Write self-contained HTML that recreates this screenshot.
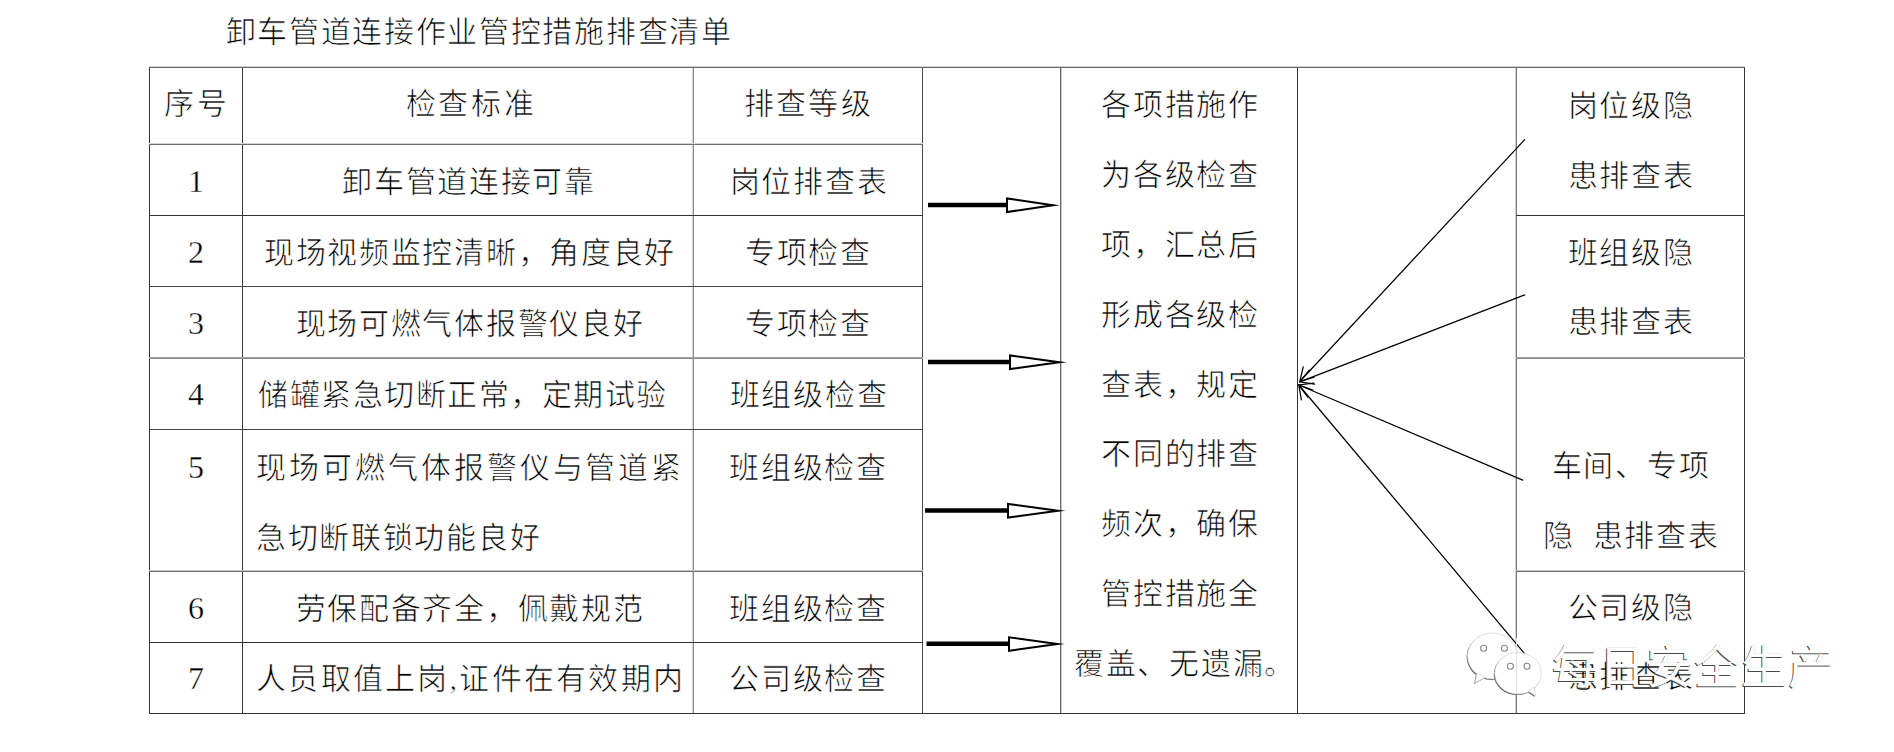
<!DOCTYPE html>
<html lang="zh-CN"><head><meta charset="utf-8"><style>
html,body{margin:0;padding:0;background:#fff;}
body{width:1894px;height:752px;position:relative;overflow:hidden;}
.l{position:absolute;}
.t,.d,.wm{position:absolute;white-space:nowrap;line-height:1;}
.t{font-family:"Liberation Serif",serif;font-size:30px;letter-spacing:1.7px;color:#000;-webkit-text-stroke:0.7px #fff;}
.d{font-family:"Liberation Serif",serif;font-size:32px;color:#000;-webkit-text-stroke:0.35px #fff;}
.c{text-align:center;}
.ov{position:absolute;left:0;top:0;}
.wm{font-family:"Liberation Sans",sans-serif;font-size:46px;color:#fff;text-shadow:-1px 1px 0 #484848,0 0 0.6px #bbb;letter-spacing:1.2px;}
</style></head><body>
<div class="l" style="left:149px;top:67px;width:1px;height:647px;background:#333;"></div>
<div class="l" style="left:242px;top:67px;width:1px;height:647px;background:#3a3a3a;"></div>
<div class="l" style="left:693px;top:67px;width:1px;height:647px;background:#8a8a8a;"></div>
<div class="l" style="left:922px;top:67px;width:1px;height:647px;background:#4a4a4a;"></div>
<div class="l" style="left:1060px;top:67px;width:1px;height:647px;background:#6a6a6a;"></div>
<div class="l" style="left:1297px;top:67px;width:1px;height:647px;background:#333;"></div>
<div class="l" style="left:1516px;top:67px;width:1px;height:647px;background:#7a7a7a;"></div>
<div class="l" style="left:1744px;top:67px;width:1px;height:647px;background:#333;"></div>
<div class="l" style="left:692px;top:67px;width:1px;height:647px;background:#d4d4d4;"></div>
<div class="l" style="left:1061px;top:67px;width:1px;height:647px;background:#c8c8c8;"></div>
<div class="l" style="left:1515px;top:67px;width:1px;height:647px;background:#d0d0d0;"></div>
<div class="l" style="left:149px;top:66px;width:1596px;height:1px;background:#cfcfcf;"></div>
<div class="l" style="left:149px;top:143px;width:774px;height:1px;background:#d4d4d4;"></div>
<div class="l" style="left:149px;top:357px;width:774px;height:1px;background:#a0a0a0;"></div>
<div class="l" style="left:1516px;top:357px;width:229px;height:1px;background:#a0a0a0;"></div>
<div class="l" style="left:149px;top:570px;width:774px;height:1px;background:#c4c4c4;"></div>
<div class="l" style="left:1516px;top:570px;width:229px;height:1px;background:#c4c4c4;"></div>
<div class="l" style="left:149px;top:67px;width:1596px;height:1px;background:#6a6a6a;"></div>
<div class="l" style="left:149px;top:144px;width:774px;height:1px;background:#707070;"></div>
<div class="l" style="left:149px;top:215px;width:774px;height:1px;background:#333;"></div>
<div class="l" style="left:1516px;top:215px;width:229px;height:1px;background:#333;"></div>
<div class="l" style="left:149px;top:286px;width:774px;height:1px;background:#444;"></div>
<div class="l" style="left:149px;top:358px;width:774px;height:1px;background:#8a8a8a;"></div>
<div class="l" style="left:1516px;top:358px;width:229px;height:1px;background:#8a8a8a;"></div>
<div class="l" style="left:149px;top:429px;width:774px;height:1px;background:#444;"></div>
<div class="l" style="left:149px;top:571px;width:774px;height:1px;background:#707070;"></div>
<div class="l" style="left:1516px;top:571px;width:229px;height:1px;background:#707070;"></div>
<div class="l" style="left:149px;top:642px;width:774px;height:1px;background:#333;"></div>
<div class="l" style="left:149px;top:713px;width:1596px;height:1px;background:#333;"></div>
<div class="t" style="left:225.5px;top:17px;">卸车管道连接作业管控措施排查清单</div>
<div class="t c" style="left:-103px;top:89px;width:600px;letter-spacing:3px;">序号</div>
<div class="t c" style="left:171px;top:89px;width:600px;letter-spacing:2.7px;">检查标准</div>
<div class="t c" style="left:508.5px;top:89px;width:600px;letter-spacing:2.2px;">排查等级</div>
<div class="d c" style="left:-104px;top:165px;width:600px;">1</div>
<div class="t c" style="left:169px;top:167px;width:600px;">卸车管道连接可靠</div>
<div class="t c" style="left:509px;top:167px;width:600px;">岗位排查表</div>
<div class="d c" style="left:-104px;top:236px;width:600px;">2</div>
<div class="t c" style="left:170px;top:238px;width:600px;">现场视频监控清晰，角度良好</div>
<div class="t c" style="left:508.5px;top:238px;width:600px;">专项检查</div>
<div class="d c" style="left:-104px;top:307px;width:600px;">3</div>
<div class="t c" style="left:170px;top:309px;width:600px;">现场可燃气体报警仪良好</div>
<div class="t c" style="left:508.5px;top:309px;width:600px;">专项检查</div>
<div class="d c" style="left:-104px;top:378px;width:600px;">4</div>
<div class="t" style="left:258px;top:380px;letter-spacing:1.5px;">储罐紧急切断正常，定期试验</div>
<div class="t c" style="left:509px;top:380px;width:600px;">班组级检查</div>
<div class="d c" style="left:-104px;top:451px;width:600px;">5</div>
<div class="t" style="left:256px;top:453px;letter-spacing:2.95px;">现场可燃气体报警仪与管道紧</div>
<div class="t c" style="left:508.5px;top:453px;width:600px;">班组级检查</div>
<div class="d c" style="left:-104px;top:592px;width:600px;">6</div>
<div class="t c" style="left:170px;top:594px;width:600px;">劳保配备齐全，佩戴规范</div>
<div class="t c" style="left:508.5px;top:594px;width:600px;">班组级检查</div>
<div class="d c" style="left:-104px;top:662px;width:600px;">7</div>
<div class="t" style="left:256px;top:664px;letter-spacing:2.25px;">人员取值上岗,证件在有效期内</div>
<div class="t c" style="left:508.5px;top:664px;width:600px;">公司级检查</div>
<div class="t" style="left:256px;top:523px;">急切断联锁功能良好</div>
<div class="t c" style="left:880.5px;top:90px;width:600px;">各项措施作</div>
<div class="t c" style="left:880.5px;top:160px;width:600px;">为各级检查</div>
<div class="t c" style="left:880.5px;top:230px;width:600px;">项，汇总后</div>
<div class="t c" style="left:880.5px;top:300px;width:600px;">形成各级检</div>
<div class="t c" style="left:880.5px;top:370px;width:600px;">查表，规定</div>
<div class="t c" style="left:880.5px;top:439px;width:600px;">不同的排查</div>
<div class="t c" style="left:880.5px;top:509px;width:600px;">频次，确保</div>
<div class="t c" style="left:880.5px;top:579px;width:600px;">管控措施全</div>
<div class="t c" style="left:885.0px;top:649px;width:600px;">覆盖、无遗漏。</div>
<div class="t c" style="left:1331px;top:91px;width:600px;">岗位级隐</div>
<div class="t c" style="left:1331px;top:161px;width:600px;">患排查表</div>
<div class="t c" style="left:1331px;top:238px;width:600px;">班组级隐</div>
<div class="t c" style="left:1331px;top:307px;width:600px;">患排查表</div>
<div class="t c" style="left:1331px;top:451px;width:600px;">车间、专项</div>
<div class="t c" style="left:1331px;top:521px;width:600px;">隐&nbsp;&nbsp;患排查表</div>
<div class="t c" style="left:1331px;top:593px;width:600px;">公司级隐</div>
<div class="t c" style="left:1331px;top:662px;width:600px;">患排查表</div>
<svg class="ov" width="1894" height="752" viewBox="0 0 1894 752">
<g fill="none" stroke="#000" stroke-linecap="butt">
<path d="M928 205H1007" stroke-width="4.4"/>
<path d="M1007 198.5V212L1053 205.2Z" stroke-width="2" fill="#fff" stroke-linejoin="miter" stroke-miterlimit="20"/>
<path d="M928 362H1010" stroke-width="4.4"/>
<path d="M1010 355.5V369L1059.5 362.2Z" stroke-width="2" fill="#fff" stroke-linejoin="miter" stroke-miterlimit="20"/>
<path d="M925 510.5H1008" stroke-width="4.4"/>
<path d="M1008 504V517.5L1058 510.7Z" stroke-width="2" fill="#fff" stroke-linejoin="miter" stroke-miterlimit="20"/>
<path d="M926.5 643.8H1009" stroke-width="4.4"/>
<path d="M1009 637.3V650.8L1057.5 644Z" stroke-width="2" fill="#fff" stroke-linejoin="miter" stroke-miterlimit="20"/>
</g>
<g fill="none" stroke="#000" stroke-width="1.25" stroke-linecap="round">
<path d="M1524.7 139.6L1299.8 381.5M1314.1 377.1L1299.8 381.5L1303.2 366.9"/>
<path d="M1524.7 294.9L1299.8 381.8M1314.6 384.1L1299.8 381.8L1309.2 370.1"/>
<path d="M1522.7 480.2L1298.8 385M1307.8 397.0L1298.8 385L1313.7 383.2"/>
<path d="M1524.8 653.8L1298.8 385M1301.4 399.8L1298.8 385L1312.9 390.1"/>
</g>
</svg>
<svg class="ov" width="1894" height="752" viewBox="0 0 1894 752">
<g fill="#5a5a5a" transform="translate(-0.9,0.9)"><ellipse cx="1492.5" cy="656" rx="25" ry="23"/><path d="M1477 673L1475 683L1485 677.5Z"/></g>
<g fill="#fff" stroke="#d0d0d0" stroke-width="0.7"><ellipse cx="1492.5" cy="656" rx="25" ry="23"/><path d="M1477 673L1475 683L1485 677.5Z"/></g>
<g fill="#fff" stroke="#888" stroke-width="1.1">
<circle cx="1483.6" cy="648.2" r="3"/><circle cx="1504.4" cy="648.2" r="3"/>
</g>
<g fill="#5a5a5a" transform="translate(-0.9,0.9)"><ellipse cx="1518" cy="673.3" rx="23.3" ry="20.8"/><path d="M1534 687L1535.6 696L1528 691Z"/></g>
<g fill="#fff" stroke="#d0d0d0" stroke-width="0.7"><ellipse cx="1518" cy="673.3" rx="23.3" ry="20.8"/><path d="M1534 687L1535.6 696L1528 691Z"/></g>
<g fill="#fff" stroke="#888" stroke-width="1.1">
<circle cx="1510.4" cy="666.3" r="3"/><circle cx="1527" cy="666.3" r="3"/>
</g>
</svg>
<div class="l" style="left:1516px;top:638px;width:1px;height:56px;background:#e2e2e2"></div>
<div class="wm" style="left:1552px;top:644px">每日安全生产</div>
</body></html>
